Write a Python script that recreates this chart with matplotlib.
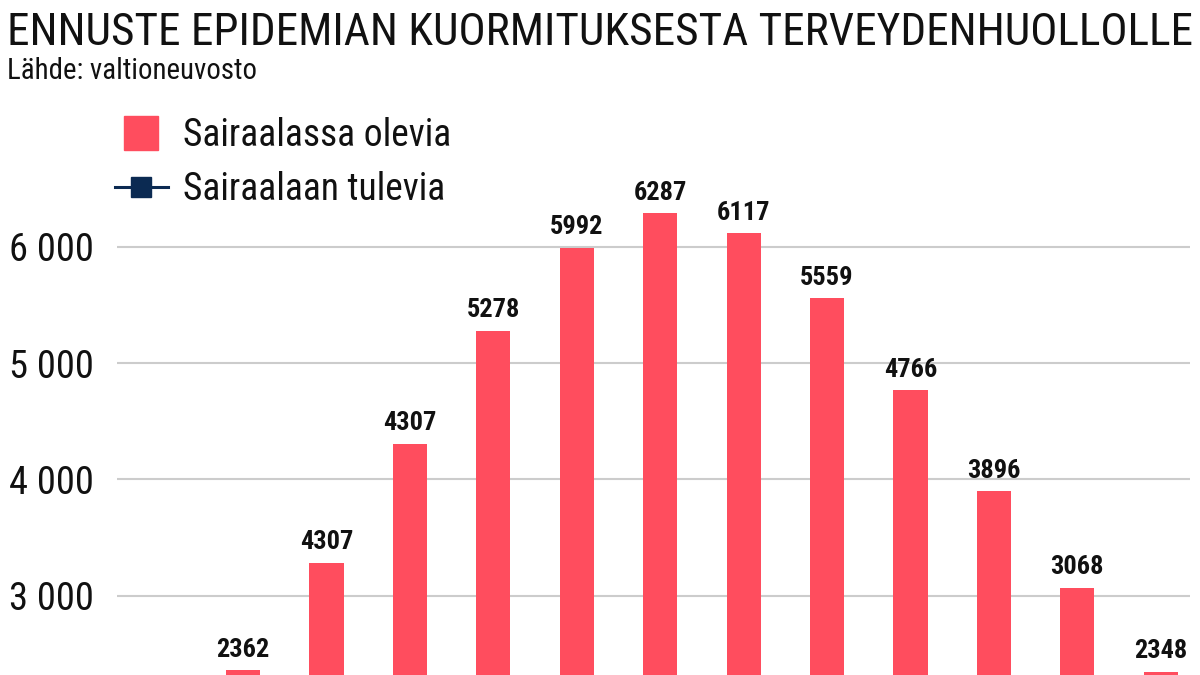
import matplotlib
matplotlib.use("Agg")
import matplotlib.pyplot as plt
from matplotlib.lines import Line2D
from matplotlib.ticker import FuncFormatter

# ============================================
# Data
# ============================================

bar_values = [2362, 3284, 4307, 5278, 5992, 6287, 6117, 5559, 4766, 3896, 3068, 2348]
bar_labels = ["2362", "4307", "4307", "5278", "5992", "6287",
              "6117", "5559", "4766", "3896", "3068", "2348"]
y_ticks    = [3000, 4000, 5000, 6000]

TITLE    = "ENNUSTE EPIDEMIAN KUORMITUKSESTA TERVEYDENHUOLLOLLE"
SUBTITLE = "Lähde: valtioneuvosto"
SERIES   = ["Sairaalassa olevia", "Sairaalaan tulevia"]

RED  = "#ff4d5e"
NAVY = "#0b2a52"
INK  = "#111111"
FONT = "Roboto Condensed"

# ============================================
# Plot
# ============================================

plt.rcParams["font.family"] = [FONT, "DejaVu Sans"]

fig = plt.figure(figsize=(12, 6.75), dpi=100)
ax = fig.add_axes([117 / 1200, 0, (1190 - 117) / 1200, 575 / 675])

x = list(range(len(bar_values)))
bars = ax.bar(x, bar_values, width=0.41, color=RED, zorder=2)
ax.bar_label(bars, labels=bar_labels, padding=6, fontsize=19,
             fontweight="bold", color=INK)

ax.set_xlim(-1.51, 11.35)
ax.set_ylim(2318, 7261)
ax.set_yticks(y_ticks)
ax.yaxis.set_major_formatter(FuncFormatter(lambda v, _: f"{int(v):,}".replace(",", " ")))
ax.tick_params(axis="y", length=0, pad=17, labelsize=27.7, labelcolor=INK)
ax.set_xticks([])
ax.grid(axis="y", color="#cccccc", linewidth=1.5, zorder=0)
for s in ax.spines.values():
    s.set_visible(False)

# legend: square for the bars, line + square marker for the (off-scale) arrivals series
handles = [
    Line2D([], [], marker="s", markersize=24.5, linestyle="none", color=RED),
    Line2D([], [], marker="s", markersize=15, linewidth=2.2, color=NAVY),
]
ax.legend(handles, SERIES, loc="upper left", bbox_to_anchor=(115 / 1200, 1 - 117.5 / 675),
          bbox_transform=fig.transFigure, frameon=False, fontsize=27,
          handlelength=1.413, handletextpad=0.4, labelspacing=0.45,
          borderpad=0, borderaxespad=0, labelcolor=INK)

fig.text(7 / 1200, 1 - 45 / 675, TITLE, fontsize=32.6, color=INK, va="baseline")
fig.text(7 / 1200, 1 - 79 / 675, SUBTITLE, fontsize=20.8, color=INK, va="baseline")

fig.savefig("out.png", dpi=100)
